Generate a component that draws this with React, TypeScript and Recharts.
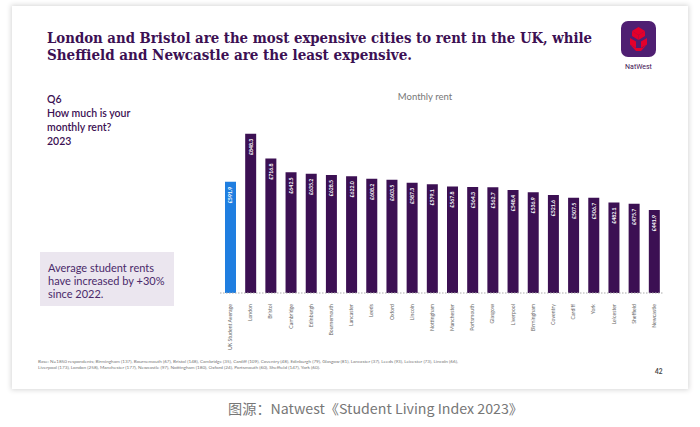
import React from "react";
import { BarChart, Bar, XAxis, YAxis, Cell, LabelList } from "recharts";

const categories = [
  "UK Student Average", "London", "Bristol", "Cambridge", "Edinburgh", "Bournemouth",
  "Lancaster", "Leeds", "Oxford", "Lincoln", "Nottingham", "Manchester", "Portsmouth",
  "Glasgow", "Liverpool", "Birmingham", "Coventry", "Cardiff", "York", "Leicester",
  "Sheffield", "Newcastle",
];
const rent = [
  591.9, 848.3, 716.8, 642.5, 635.2, 628.5, 622.0, 608.2, 603.5, 587.3, 579.1,
  567.8, 564.3, 562.7, 548.4, 536.9, 521.6, 507.5, 506.7, 482.1, 475.7, 441.9,
];
const highlight = ["UK Student Average"];
const titleLines = [
  "London and Bristol are the most expensive cities to rent in the UK, while",
  "Sheffield and Newcastle are the least expensive.",
];
const questionLines = ["Q6", "How much is your", "monthly rent?", "2023"];
const calloutLines = ["Average student rents", "have increased by +30%", "since 2022."];
const footLines = [
  "Base: N=1850 respondents; Birmingham (137), Bournemouth (67), Bristol (148), Cambridge (35), Cardiff (109), Coventry (48), Edinburgh (79), Glasgow (81), Lancaster (37), Leeds (93), Leicester (73), Lincoln (66),",
  "Liverpool (173), London (258), Manchester (177), Newcastle (97), Nottingham (180), Oxford (24), Portsmouth (60), Sheffield (147), York (60).",
];
const chartTitle = "Monthly rent";
const caption = "图源：Natwest《Student Living Index 2023》";

const data = categories.map((c, i) => ({ city: c, rent: rent[i] }));

const PURPLE = "#3c1053";
const BLUE = "#1f7ee0";

const Tick = (props: any) => {
  const { x, y, payload } = props;
  const yy = y + 3;
  return (
    <text
      x={x}
      y={yy}
      transform={`rotate(-90 ${x} ${yy})`}
      textAnchor="end"
      dominantBaseline="central"
      fontSize={5.2}
      fill="#666"
      fontFamily="Lato, sans-serif"
    >
      {payload.value}
    </text>
  );
};

const BarLabel = (props: any) => {
  const { x, y, width, value } = props;
  const cx = x + width / 2;
  const yy = y + 5;
  return (
    <text
      x={cx}
      y={yy}
      transform={`rotate(-90 ${cx} ${yy})`}
      textAnchor="end"
      dominantBaseline="central"
      fontSize={5.2}
      fontWeight="bold"
      fill="#ffffff"
      fontFamily="Lato, sans-serif"
    >
      {"£" + Number(value).toFixed(1)}
    </text>
  );
};

const Logo = () => (
  <svg width={36} height={50} style={{ position: "absolute", left: 621, top: 21 }}>
    <rect x={0} y={0} width={35} height={36} rx={7} fill="#4f1f72" />
    <g fill="#e4002b">
      <polygon points="17.5,6 24,10 17.5,14 11,10" />
      <polygon points="11,10 17.5,14 17.5,19 11,15" />
      <polygon points="24,10 17.5,14 17.5,19 24,15" />
      <polygon points="9,17 15,20.5 15,27 9,23.5" />
      <polygon points="26,17 20,20.5 20,27 26,23.5" />
      <polygon points="9,23.5 15,27 21,27 26,23.5 20,30 15,30" />
    </g>
    <text x={17.5} y={48} textAnchor="middle" fontSize={7} fill="#3c1053" fontFamily="Roboto, sans-serif">
      NatWest
    </text>
  </svg>
);

export default function App() {
  return (
    <div
      style={{
        position: "absolute",
        left: 0,
        top: 0,
        width: 700,
        height: 427,
        background: "#ffffff",
        overflow: "hidden",
      }}
    >
      <div
        style={{
          position: "absolute",
          left: 12,
          top: 6,
          width: 676,
          height: 383,
          background: "#ffffff",
          boxShadow: "0 0 5px 1px rgba(0,0,0,0.16)",
        }}
      />
      <svg width={700} height={427} style={{ position: "absolute", left: 0, top: 0 }}>
        {titleLines.map((t, i) => (
          <text
            key={i}
            x={47}
            y={43 + i * 17}
            fontSize={15}
            fontWeight="bold"
            fill="#3c1053"
            fontFamily="'DejaVu Serif', serif"
            textLength={i === 0 ? 545 : 365}
            lengthAdjust="spacingAndGlyphs"
          >
            {t}
          </text>
        ))}
        {questionLines.map((t, i) => (
          <text
            key={i}
            x={47}
            y={103 + i * 14}
            fontSize={10.5}
            fontWeight={600}
            fill="#3c1053"
            fontFamily="Lato, sans-serif"
          >
            {t}
          </text>
        ))}
        <rect x={40} y={252} width={134} height={54} fill="#ebe6ef" />
        {calloutLines.map((t, i) => (
          <text
            key={i}
            x={48}
            y={272 + i * 13}
            fontSize={11}
            fill="#4a2a6a"
            fontFamily="Lato, sans-serif"
          >
            {t}
          </text>
        ))}
        <text x={425} y={100} textAnchor="middle" fontSize={9.5} fill="#777" fontFamily="Lato, sans-serif">
          {chartTitle}
        </text>
        {footLines.map((t, i) => (
          <text
            key={i}
            x={38}
            y={363 + i * 5.5}
            fontSize={3.6}
            fill="#777"
            fontFamily="Lato, sans-serif"
            textLength={i === 0 ? 420 : 282}
            lengthAdjust="spacingAndGlyphs"
          >
            {t}
          </text>
        ))}
        <text x={655} y={374} fontSize={6.5} fontWeight="bold" fill="#444" fontFamily="Lato, sans-serif">
          42
        </text>
        <text
          x={228}
          y={414}
          fontSize={13.5}
          fill="#777"
          fontFamily="'Noto Sans CJK SC', sans-serif"
          textLength={295}
          lengthAdjust="spacingAndGlyphs"
        >
          {caption}
        </text>
      </svg>
      <Logo />
      <div style={{ position: "absolute", left: 0, top: 0 }}>
        <BarChart
          width={700}
          height={427}
          data={data}
          margin={{ top: 124, right: 36, bottom: 74, left: 220 }}
        >
          <YAxis hide domain={[0, 900]} />
          <XAxis
            dataKey="city"
            interval={0}
            height={60}
            tickLine={false}
            axisLine={{ stroke: "#aaa", strokeDasharray: "1.5 1.5" }}
            tick={<Tick />}
          />
          <Bar dataKey="rent" barSize={11} isAnimationActive={false}>
            {data.map((d, i) => (
              <Cell key={i} fill={highlight.includes(d.city) ? BLUE : PURPLE} />
            ))}
            <LabelList dataKey="rent" content={<BarLabel />} />
          </Bar>
        </BarChart>
      </div>
    </div>
  );
}
